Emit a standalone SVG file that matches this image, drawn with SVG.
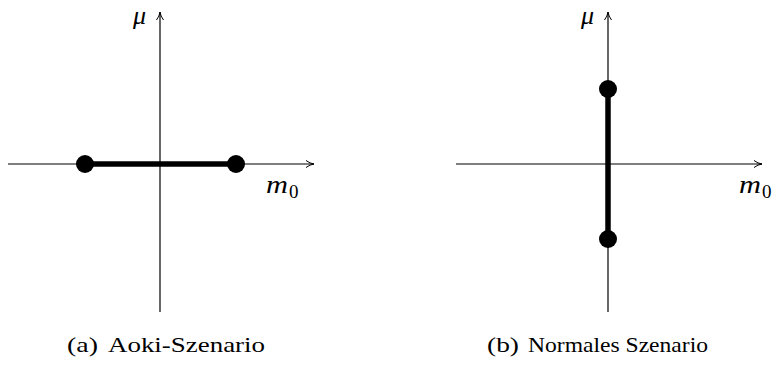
<svg xmlns="http://www.w3.org/2000/svg" width="776" height="365" viewBox="0 0 776 365">
<style>
.ax{stroke:#000;stroke-width:1.2;fill:none}
.thick{stroke:#000;stroke-width:5.5;fill:none}
.dot{fill:#000}
.math{font-family:"Liberation Serif","DejaVu Serif",serif;font-style:italic;font-size:26px;fill:#000}
.sub{font-family:"Liberation Serif","DejaVu Serif",serif;font-size:19px;fill:#000}
.cap{font-family:"Liberation Serif","DejaVu Serif",serif;font-size:21px;fill:#000}
</style>
<defs>
<marker id="arr" markerWidth="10" markerHeight="8" refX="8" refY="4" orient="auto" markerUnits="userSpaceOnUse">
<path d="M0,0.5 Q4,3.5 8,4 Q4,4.5 0,7.5" fill="none" stroke="#000" stroke-width="1"/>
</marker>
</defs>
<g id="connectors">
<line class="ax" x1="8" y1="164" x2="314" y2="164" marker-end="url(#arr)"/>
<line class="ax" x1="160" y1="312" x2="160" y2="12" marker-end="url(#arr)"/>
<line class="thick" x1="85" y1="164" x2="236" y2="164"/>
<line class="ax" x1="456" y1="164" x2="762" y2="164" marker-end="url(#arr)"/>
<line class="ax" x1="608" y1="312" x2="608" y2="12" marker-end="url(#arr)"/>
<line class="thick" x1="608" y1="89" x2="608" y2="239"/>
</g>
<g id="nodeA1"><circle class="dot" cx="85" cy="164" r="9"/></g>
<g id="nodeA2"><circle class="dot" cx="236" cy="164" r="9"/></g>
<g id="nodeB1"><circle class="dot" cx="608" cy="89" r="9"/></g>
<g id="nodeB2"><circle class="dot" cx="608" cy="239" r="9"/></g>
<g id="labelsA">
<text class="math" x="133" y="24">μ</text>
<text class="math" x="266" y="193" textLength="22" lengthAdjust="spacingAndGlyphs">m</text><text class="sub" x="289" y="198">0</text>
<text class="cap" x="67" y="352" textLength="31" lengthAdjust="spacingAndGlyphs">(a)</text>
<text class="cap" x="108" y="352" textLength="157" lengthAdjust="spacingAndGlyphs">Aoki-Szenario</text>
</g>
<g id="labelsB">
<text class="math" x="581" y="24">μ</text>
<text class="math" x="739" y="193" textLength="22" lengthAdjust="spacingAndGlyphs">m</text><text class="sub" x="762" y="198">0</text>
<text class="cap" x="487" y="352" textLength="32" lengthAdjust="spacingAndGlyphs">(b)</text>
<text class="cap" x="528" y="352" textLength="180" lengthAdjust="spacingAndGlyphs">Normales Szenario</text>
</g>
</svg>
